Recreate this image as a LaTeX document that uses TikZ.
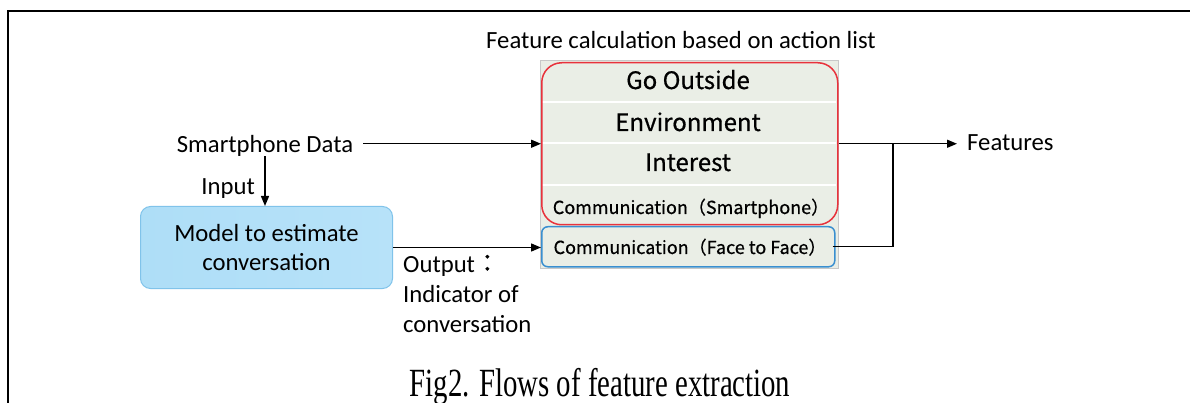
\documentclass[tikz,border=0pt]{standalone}
\usepackage{fontspec}
\setmainfont{Carlito}
\newfontfamily\jpfont[FakeBold=0.6]{Noto Sans CJK JP}
\newfontfamily\capfont{Liberation Serif}
\usetikzlibrary{arrows.meta}
\definecolor{tablefill}{HTML}{EAEEE6}
\definecolor{tableedge}{HTML}{C8C8C8}
\definecolor{actred}{HTML}{E8323C}
\definecolor{f2fblue}{HTML}{3A8FD0}
\definecolor{modeledge}{HTML}{80C3EA}
\definecolor{modelleft}{HTML}{AEDEF7}
\definecolor{modelright}{HTML}{B7E2F9}
\begin{document}
\begin{tikzpicture}[x=1pt,y=-1pt,
  txt/.style={inner sep=2pt, font=\fontsize{24.7}{30}\selectfont},
  rowtxt/.style={inner sep=0pt, font=\jpfont\fontsize{24}{26}\selectfont},
  smallrow/.style={inner sep=0pt, font=\jpfont\fontsize{18}{20}\selectfont},
  arr/.style={-{Triangle[length=10pt,width=8pt]}, line width=1.4pt, black},
  link/.style={line width=1.4pt, black}]
\useasboundingbox (0,0) rectangle (1190,403);
% frame
\draw[line width=2.6pt] (8,403) -- (8,11) -- (1190,11);

% action list table
\node[draw=tableedge, fill=tablefill, line width=0.8pt, anchor=north west, inner sep=0pt,
      minimum width=298pt, minimum height=208pt] (tbl) at (540,60) {};
\draw[white, line width=1.2pt] (542,102) -- (836,102);
\draw[white, line width=1.2pt] (542,143) -- (836,143);
\draw[white, line width=1.2pt] (542,185) -- (836,185);
\node[draw=actred, line width=1.5pt, rounded corners=20pt, anchor=north west, inner sep=0pt,
      minimum width=296pt, minimum height=162pt] (act) at (541,62) {};
\node[draw=f2fblue, line width=1.5pt, rounded corners=6pt, anchor=north west, inner sep=0pt,
      minimum width=293pt, minimum height=40pt] (f2f) at (541,226) {};
\node[rowtxt, anchor=base] (go) at (688,89) {Go Outside};
\node[rowtxt, anchor=base] (env) at (688,131) {Environment};
\node[rowtxt, anchor=base] (int) at (688,171) {Interest};
\node[smallrow, anchor=base] (csp) at (691,214) {Communication（Smartphone）};
\node[smallrow, anchor=base] (cff) at (690,254) {Communication（Face to Face）};

% labels
\node[txt, anchor=base] (title) at (681,49) {Feature calculation based on action list};
\node[txt, anchor=base] (sd) at (265,153) {Smartphone Data};
\node[txt, anchor=base east] (inp) at (257,195) {Input};
\node[txt, anchor=base west] (feat) at (965,151) {Features};
\node[txt, anchor=base west, align=left] (out) at (401,332)
  {Output{\jpfont ：}\\Indicator of\\conversation};

% estimation model
\node[draw=modeledge, line width=1pt, left color=modelleft, right color=modelright,
      rounded corners=10pt, anchor=north west, inner sep=0pt,
      minimum width=252pt, minimum height=82pt, align=center,
      font=\fontsize{24.7}{29}\selectfont] (model) at (140,206)
  {Model to estimate\\conversation};

% caption
\node[anchor=base, inner sep=0pt, font=\capfont\fontsize{40}{44}\selectfont] (cap) at (600,396)
  {\scalebox{0.72}[1]{Fig2. Flows of feature extraction}};

% connectors
\coordinate (join) at (893,143);
\draw[arr] ([xshift=8pt]sd.east |- act.west) -- (act.west);
\draw[arr] ([yshift=3pt]sd.south) -- (sd.south |- model.north);
\draw[arr] (model.east) -- (model.east -| f2f.west);
\draw[arr] (act.east) -- ([xshift=-8pt]feat.west |- act.east);
\draw[link] ([xshift=-3pt]f2f.east) -| (join);
\end{tikzpicture}
\end{document}
